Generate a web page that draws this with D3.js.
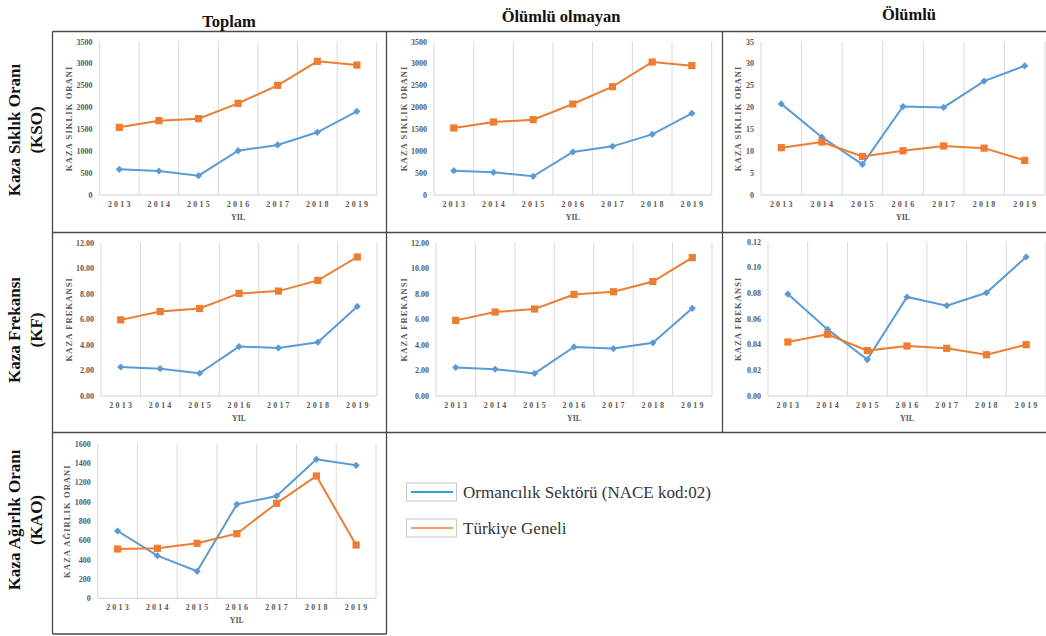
<!DOCTYPE html>
<html><head><meta charset="utf-8">
<script src="https://cdn.jsdelivr.net/npm/d3@7"></script>
<style>
html,body{margin:0;padding:0;background:#fff;}
svg{display:block;}
</style></head>
<body>
<svg id="c" width="1046" height="636"></svg>
<script>
// ---- data ----
const years = ["2013","2014","2015","2016","2017","2018","2019"];
const seriesNames = ["Ormancılık Sektörü (NACE kod:02)", "Türkiye Geneli"];
const colTitles = ["Toplam", "Ölümlü olmayan", "Ölümlü"];
const rowTitles = [["Kaza Sıklık Oranı","(KSO)"],["Kaza Frekansı","(KF)"],["Kaza Ağırlık Oranı","(KAO)"]];
const yTitles = ["KAZA SIKLIK ORANI","KAZA FREKANSI","KAZA AĞIRLIK ORANI"];

const ksoToplamOrm = [586, 548, 441, 1012, 1142, 1431, 1910];
const ksoToplamTr  = [1545, 1697, 1743, 2093, 2504, 3052, 2968];
const ksoOlmayanOrm = [556, 517, 426, 982, 1111, 1385, 1864];
const ksoOlmayanTr  = [1530, 1667, 1720, 2078, 2473, 3036, 2953];
const ksoOlumluOrm = [20.8, 13.2, 7.0, 20.2, 20.0, 26.0, 29.5];
const ksoOlumluTr  = [10.8, 12.1, 8.8, 10.1, 11.2, 10.7, 7.9];

const kfToplamOrm = [2.27, 2.14, 1.78, 3.87, 3.76, 4.21, 7.01];
const kfToplamTr  = [5.96, 6.61, 6.85, 8.03, 8.21, 9.05, 10.88];
const kfOlmayanOrm = [2.23, 2.10, 1.77, 3.84, 3.71, 4.16, 6.86];
const kfOlmayanTr  = [5.92, 6.57, 6.81, 7.95, 8.16, 8.96, 10.83];
const kfOlumluOrm = [0.0793, 0.0518, 0.0283, 0.0770, 0.0703, 0.0803, 0.1081];
const kfOlumluTr  = [0.0420, 0.0480, 0.0353, 0.0389, 0.0371, 0.0321, 0.0399];

const kaoToplamOrm = [698, 442, 280, 974, 1061, 1441, 1379];
const kaoToplamTr  = [511, 518, 570, 670, 985, 1268, 553];

const ticksKSO = [0,500,1000,1500,2000,2500,3000,3500];
const ticksKSOOlumlu = [0,5,10,15,20,25,30,35];
const ticksKF = [0,2,4,6,8,10,12];
const ticksKFOlumlu = [0,0.02,0.04,0.06,0.08,0.10,0.12];
const ticksKAO = [0,200,400,600,800,1000,1200,1400,1600];

// ---- layout ----
const C_BLUE = "#5B9BD5", C_ORANGE = "#ED7D31";
const SERIF = "'Liberation Serif','Times New Roman',serif";
const svg = d3.select("#c");

const panels = [
  {orm: ksoToplamOrm, tr: ksoToplamTr, ticks: ticksKSO, fmt: d3.format("d"), yt: yTitles[0], L: 99.5, R: 376.7, T: 41.7, B: 195, tx: 30},
  {orm: ksoOlmayanOrm, tr: ksoOlmayanTr, ticks: ticksKSO, fmt: d3.format("d"), yt: yTitles[0], L: 434, R: 711.7, T: 41.7, B: 195, tx: 30},
  {orm: ksoOlumluOrm, tr: ksoOlumluTr, ticks: ticksKSOOlumlu, fmt: d3.format("d"), yt: yTitles[0], L: 761, R: 1045, T: 41.7, B: 195, tx: 23},
  {orm: kfToplamOrm, tr: kfToplamTr, ticks: ticksKF, fmt: d3.format(".2f"), yt: yTitles[1], L: 101, R: 377, T: 242.7, B: 396, tx: 32},
  {orm: kfOlmayanOrm, tr: kfOlmayanTr, ticks: ticksKF, fmt: d3.format(".2f"), yt: yTitles[1], L: 436, R: 712, T: 242.7, B: 396, tx: 32},
  {orm: kfOlumluOrm, tr: kfOlumluTr, ticks: ticksKFOlumlu, fmt: d3.format(".2f"), yt: yTitles[1], L: 768, R: 1046, T: 241.7, B: 396, tx: 30},
  {orm: kaoToplamOrm, tr: kaoToplamTr, ticks: ticksKAO, fmt: d3.format("d"), yt: yTitles[2], L: 97.7, R: 376, T: 444, B: 598.3, tx: 31}
];

panels.forEach(p => {
  const g = svg.append("g");
  const x = d3.scaleBand().domain(years).range([p.L, p.R]);
  const y = d3.scaleLinear().domain([0, d3.max(p.ticks)]).range([p.B, p.T]);
  // vertical gridlines at band edges
  const edges = years.map(d => x(d)).concat([p.R]);
  g.selectAll("line.vg").data(edges).join("line")
    .attr("x1", d => d).attr("x2", d => d).attr("y1", p.T).attr("y2", p.B)
    .attr("stroke", "#D9D9D9").attr("stroke-width", 1);
  // bottom axis line
  g.append("line").attr("x1", p.L).attr("x2", p.R).attr("y1", p.B).attr("y2", p.B)
    .attr("stroke", "#D0D0D0").attr("stroke-width", 1);
  // y tick labels
  g.selectAll("text.yt").data(p.ticks).join("text")
    .attr("x", p.L - 7).attr("y", d => y(d)).attr("dy", "0.35em")
    .attr("text-anchor", "end").attr("font-family", SERIF).attr("font-size", 8)
    .attr("font-weight", "bold").attr("fill", "#595959").text(d => p.fmt(d));
  // x tick labels
  g.selectAll("text.xt").data(years).join("text")
    .attr("x", d => x(d) + x.bandwidth() / 2 + 1).attr("y", p.B + 12)
    .attr("text-anchor", "middle").attr("font-family", SERIF).attr("font-size", 8)
    .attr("font-weight", "bold").attr("letter-spacing", 2.2).attr("fill", "#595959").text(d => d);
  // x title
  g.append("text").attr("x", (p.L + p.R) / 2).attr("y", p.B + 25)
    .attr("text-anchor", "middle").attr("font-family", SERIF).attr("font-size", 8)
    .attr("font-weight", "bold").attr("fill", "#595959").text("YIL");
  // y title
  g.append("text").attr("transform", `translate(${p.L - p.tx},${(p.T + p.B) / 2}) rotate(-90)`)
    .attr("dy", "0.35em").attr("text-anchor", "middle").attr("font-family", SERIF)
    .attr("font-size", 8.5).attr("font-weight", "bold").attr("letter-spacing", 1.1)
    .attr("fill", "#595959").text(p.yt);
  // lines
  const line = d3.line().x((d, i) => x(years[i]) + x.bandwidth() / 2).y(d => y(d));
  [[p.orm, C_BLUE, "diamond"], [p.tr, C_ORANGE, "square"]].forEach(([vals, col, shape]) => {
    g.append("path").datum(vals).attr("d", line).attr("fill", "none")
      .attr("stroke", col).attr("stroke-width", 2);
    const sym = shape === "square" ? d3.symbol().type(d3.symbolSquare).size(52)
                                   : d3.symbol().type(d3.symbolSquare).size(26);
    g.selectAll(null).data(vals).join("path")
      .attr("d", sym)
      .attr("transform", (d, i) => `translate(${x(years[i]) + x.bandwidth() / 2},${y(d)})` + (shape === "diamond" ? " rotate(45)" : ""))
      .attr("fill", col);
  });
});

// ---- frame ----
const frame = svg.append("g").attr("stroke", "#4a4a4a").attr("stroke-width", 1.3).attr("fill", "none");
[[52.5, 31.5, 1046, 31.5], [52.5, 232.5, 1046, 232.5], [52.5, 432.5, 1046, 432.5], [52.5, 634, 386.5, 634],
 [52.5, 31.5, 52.5, 634], [386.5, 31.5, 386.5, 634], [722.5, 31.5, 722.5, 432.5]].forEach(l => {
  frame.append("line").attr("x1", l[0]).attr("y1", l[1]).attr("x2", l[2]).attr("y2", l[3]);
});

// ---- column titles ----
const colX = [229, 561, 909];
const colY = [26.5, 21.5, 20];
svg.selectAll("text.ct").data(colTitles).join("text")
  .attr("x", (d, i) => colX[i]).attr("y", (d, i) => colY[i])
  .attr("text-anchor", "middle").attr("font-family", SERIF).attr("font-size", 16.5)
  .attr("font-weight", "bold").attr("fill", "#111").text(d => d);

// ---- row titles ----
const rowY = [130, 330, 520];
rowTitles.forEach((rt, i) => {
  rt.forEach((t, j) => {
    svg.append("text").attr("transform", `translate(${j === 0 ? 20 : 42},${rowY[i]}) rotate(-90)`)
      .attr("text-anchor", "middle").attr("font-family", SERIF).attr("font-size", 17)
      .attr("font-weight", "bold").attr("fill", "#111").text(t);
  });
});

// ---- legend ----
const legColors = ["#29A3D6", "#F0A060"];
const legY = [492, 528];
seriesNames.forEach((n, i) => {
  const lg = svg.append("g");
  lg.append("rect").attr("x", 406.5).attr("y", legY[i] - 9).attr("width", 50).attr("height", 18)
    .attr("fill", "#fff").attr("stroke", "#C8C8C8").attr("stroke-width", 1);
  lg.append("line").attr("x1", 411).attr("x2", 453).attr("y1", legY[i]).attr("y2", legY[i])
    .attr("stroke", legColors[i]).attr("stroke-width", 2);
  lg.append("text").attr("x", 463).attr("y", legY[i] + 6).attr("font-family", SERIF)
    .attr("font-size", 17).attr("fill", "#333").text(n);
});
</script>
</body></html>
